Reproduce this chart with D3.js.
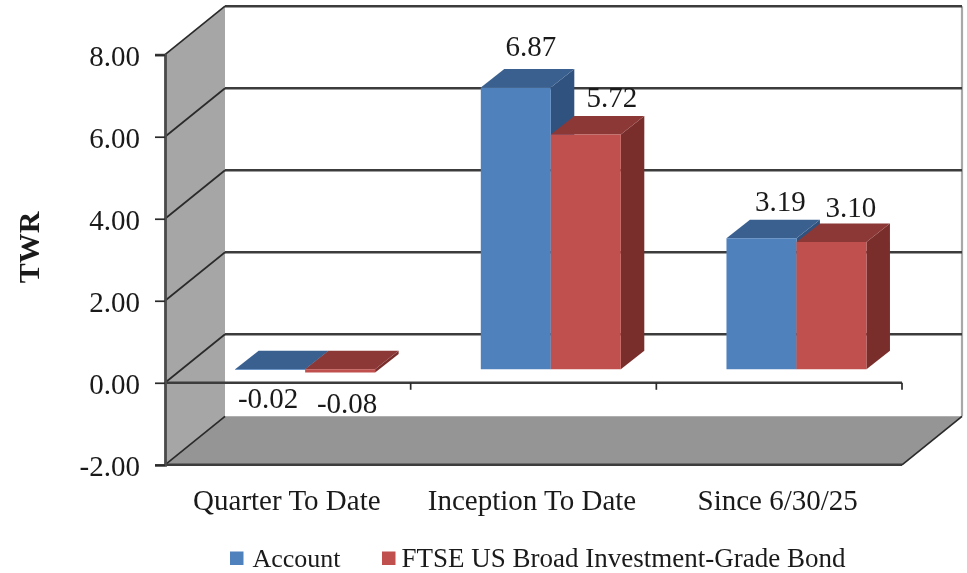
<!DOCTYPE html>
<html><head><meta charset="utf-8">
<script src="https://cdn.jsdelivr.net/npm/d3@7/dist/d3.min.js"></script>
<style>html,body{margin:0;padding:0;background:#fff}svg{display:block;filter:blur(.5px)}text{font-family:"Liberation Serif",serif;fill:#1a1a1a}</style>
</head><body><svg id="c" width="967" height="573"></svg>
<script>
const categories=["Quarter To Date","Inception To Date","Since 6/30/25"];
const seriesNames=["Account","FTSE US Broad Investment-Grade Bond"];
const account=[-0.02,6.87,3.19];
const benchmark=[-0.08,5.72,3.10];
const yTicks=[-2,0,2,4,6,8];
const colors=[{front:"#4f81bd",top:"#3a6090",side:"#30527f"},{front:"#c0504d",top:"#8c3836",side:"#7a2e2c"}];
const labelNudge=[[[-2,39],[7,44]],[[15,-31],[26,-27.5]],[[19,-27.5],[19.5,-25]]];
const catNudge=[-1,-1.5,-1.5];

const svg=d3.select("#c");
const left=165,right=902,depthX=60,depthY=48.5;
const y=d3.scaleLinear().domain([-2,8]).range([464.8,54.7]);
const x=d3.scaleBand().domain(categories).range([left,right]);
const bx=d3.scaleBand().domain([0,1]);
const barShiftX=17.3,barShiftY=-13.6,barDX=23.5,barDY=-18.5;
const poly=(pts,fill)=>svg.append("polygon").attr("points",pts.map(p=>p.join(",")).join(" ")).attr("fill",fill);
const line=(a,b,c,w)=>svg.append("line").attr("x1",a[0]).attr("y1",a[1]).attr("x2",b[0]).attr("y2",b[1]).attr("stroke",c).attr("stroke-width",w);

// walls
poly([[left,y(8)],[left+depthX,y(8)-depthY],[left+depthX,y(-2)-depthY],[left,y(-2)]],"#a6a6a6");
poly([[left,y(-2)],[left+depthX,y(-2)-depthY],[right+depthX,y(-2)-depthY],[right,y(-2)]],"#959595");
line([right+depthX,y(8)-depthY],[right+depthX,y(-2)-depthY],"#a8a8a8",2.2);
// gridlines
yTicks.forEach(t=>{
  if(t>-2) line([left+depthX,y(t)-depthY],[right+depthX,y(t)-depthY],"#3c3c3c",2.4);
  line([left,y(t)],[left+depthX,y(t)-depthY],"#2a2a2a",1.7);
});
line([left,y(-2)],[right,y(-2)],"#3c3c3c",2.6);
line([right,y(-2)],[right+depthX,y(-2)-depthY],"#2a2a2a",1.7);

// bars
const barW=70;
const barsOf=[account,benchmark];
categories.forEach((c,i)=>{
  const cx=x(c)+x.bandwidth()/2+barShiftX;
  bx.range([cx-barW,cx+barW]);
  [0,1].forEach(s=>{
    const v=barsOf[s][i];
    const x0=bx(s),x1=x0+bx.bandwidth();
    const top=y(Math.max(v,0))+barShiftY, bot=y(Math.min(v,0))+barShiftY;
    poly([[x1,top],[x1+barDX,top+barDY],[x1+barDX,bot+barDY],[x1,bot]],colors[s].side);
    poly([[x0,top],[x0+barDX,top+barDY],[x1+barDX,top+barDY],[x1,top]],colors[s].top);
    poly([[x0,top],[x1,top],[x1,bot],[x0,bot]],colors[s].front);
  });
});
// zero axis line
line([left,y(0)],[right,y(0)],"#3c3c3c",2.6);

// y axis
const ya=svg.append("g").attr("transform",`translate(${left},0)`).call(d3.axisLeft(y).tickValues(yTicks).tickFormat(d=>d3.format(".2f")(d).replace("\u2212","-")).tickSize(10).tickPadding(15));
ya.select(".domain").attr("stroke","#4a4a4a").attr("stroke-width",2.8);
ya.selectAll("line").attr("stroke","#2a2a2a").attr("stroke-width",1.7);
ya.selectAll("text").attr("x",-25).attr("dy",null).attr("y",10.5).style("font-size","29px").style("font-family","Liberation Serif").attr("fill","#1a1a1a");

// x axis
x.domain().forEach(c=>{ line([x(c)+x.bandwidth(),y(0)],[x(c)+x.bandwidth(),y(0)+7],"#2a2a2a",1.7); });
categories.forEach((c,i)=>{
  svg.append("text").attr("x",x(c)+x.bandwidth()/2+catNudge[i]).attr("y",510).attr("text-anchor","middle").style("font-size","29px").text(c);
});

// data labels
categories.forEach((c,i)=>{
  const cx=x(c)+x.bandwidth()/2+barShiftX;
  bx.range([cx-barW,cx+barW]);
  [0,1].forEach(s=>{
    const v=barsOf[s][i];
    svg.append("text").attr("x",bx(s)+bx.bandwidth()/2+labelNudge[i][s][0])
      .attr("y",y(Math.max(v,0))+barShiftY+labelNudge[i][s][1]).attr("text-anchor","middle").style("font-size","29px").text(v.toFixed(2));
  });
});

// y title
svg.append("text").attr("transform","translate(39,247.5) rotate(-90)").attr("text-anchor","middle").style("font-size","30px").style("font-weight","bold").text("TWR");

// legend
const legendX=[230,382];
const legendText=[252.5,401.5];
const legendSize=[26,27];
seriesNames.forEach((n,i)=>{
  svg.append("rect").attr("x",legendX[i]).attr("y",551.5).attr("width",13.5).attr("height",13.5).attr("fill",colors[i].front);
  svg.append("text").attr("x",legendText[i]).attr("y",566.5).style("font-size",legendSize[i]+"px").text(n);
});
</script></body></html>
